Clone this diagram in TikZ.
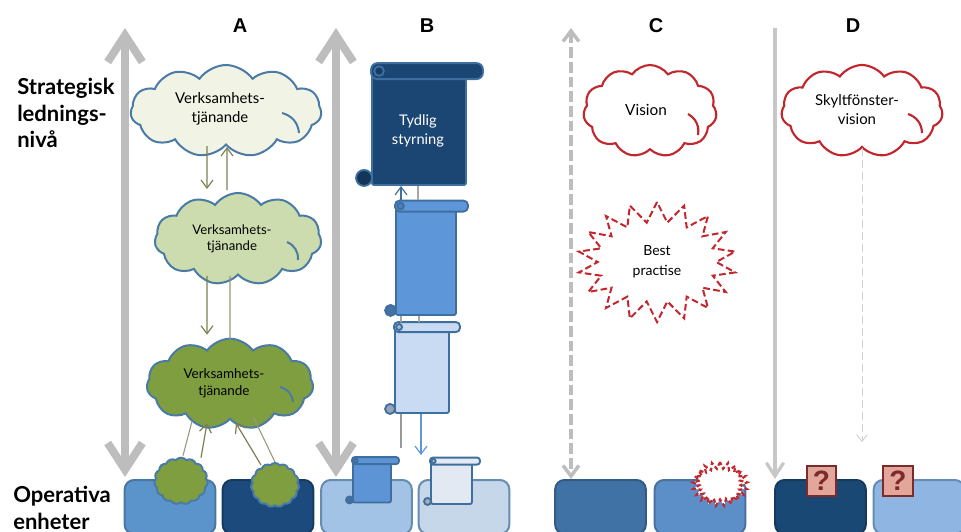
\documentclass[tikz,border=0pt]{standalone}
\usepackage{fontspec}
\setmainfont{Lato}
\newfontfamily\headfont{Liberation Sans}
\usetikzlibrary{arrows.meta,shapes.symbols}
\definecolor{barcol}{HTML}{BDBDBD}
\definecolor{flowcol}{HTML}{7B8052}
\definecolor{cloudline}{HTML}{4A7BA6}
\definecolor{redline}{HTML}{C2272D}
\definecolor{scrollcol}{HTML}{3F6F9F}
\definecolor{cloudpale}{HTML}{F1F3E5}
\definecolor{cloudmid}{HTML}{CDDCAE}
\definecolor{clouddark}{HTML}{7F9E3F}
\definecolor{unitA}{HTML}{5B93CB}
\definecolor{unitB}{HTML}{1C4A7C}
\definecolor{unitC}{HTML}{A3C3E6}
\definecolor{unitD}{HTML}{C7D7EA}
\definecolor{unitE}{HTML}{4072A5}
\definecolor{unitF}{HTML}{5C8FC8}
\definecolor{unitG}{HTML}{1A4875}
\definecolor{unitH}{HTML}{8FB6E3}
\definecolor{scrollA}{HTML}{1B4674}
\definecolor{scrollB}{HTML}{5E97D9}
\definecolor{scrollC}{HTML}{C8DBF3}
\definecolor{scrollD}{HTML}{5C94D6}
\definecolor{scrollE}{HTML}{E2E9F3}
\definecolor{markfill}{HTML}{E3A69B}
\definecolor{markline}{HTML}{7C2A2A}
\newcommand{\scrollnode}[7]{%
	\node[scrollbody, fill=#6, minimum width=#3*.75pt, minimum height=#4*.75pt, #7] (#1) at (#2) {};
	\draw[scrollbody, fill=#6, rounded corners=#5*.3pt] ([shift={(0,-#5/2)}]#1.north west) rectangle ([shift={(#5,#5/2)}]#1.north east);
	\draw[scrollbody, fill=#6!85!black] ([shift={(#5/2,0)}]#1.north west) circle[radius=#5*.3];
	\draw[scrollbody, fill=#6!75!black] ([shift={(-#5/2+1,-#5/2)}]#1.south west) circle[radius=#5/2];
}
\begin{document}
\begin{tikzpicture}[
		x=.75pt, y=-.75pt
		,head/.style={font=\headfont\bfseries\fontsize{15}{18}\selectfont}
		,side/.style={font=\bfseries\fontsize{16.5}{20}\selectfont, align=left, inner sep=0pt}
		,unit/.style={draw=#1!80!black, fill=#1, line width=1.5pt, rounded corners=7pt, minimum width=68pt, minimum height=40.5pt, inner sep=0pt}
		,bar/.style={draw=barcol, line width=6pt, {Straight Barb[length=20pt, width=26pt]}-{Straight Barb[length=20pt, width=26pt]}}
		,barC/.style={draw=barcol, line width=2.6pt, dash pattern=on 8pt off 3pt, {Straight Barb[length=8pt, width=12pt]}-{Straight Barb[length=8pt, width=12pt]}}
		,barD/.style={draw=barcol!85!white, line width=2.4pt, -{Straight Barb[length=10pt, width=13pt]}}
		,ghost/.style={draw=barcol!70!white, line width=.7pt, dash pattern=on 6pt off 3pt, -{Straight Barb[length=5pt, width=8pt]}}
		,puff/.style={cloud, cloud puffs=11, cloud puff arc=110, draw=cloudline, line width=1.5pt, align=center, inner sep=0pt}
		,puffline/.style={draw=cloudline, line width=1.5pt}
		,redpuff/.style={cloud, cloud puffs=11, cloud puff arc=110, draw=redline, fill=white, line width=1.6pt, align=center, inner sep=0pt}
		,redline/.style={draw=redline, line width=1.6pt}
		,burst/.style={starburst, random starburst=0, draw=redline, fill=white, line width=1.5pt, dash pattern=on 5pt off 2.5pt, align=center, inner sep=0pt}
		,flow/.style={draw=flowcol, line width=.9pt, -{Straight Barb[length=6pt, width=9pt]}}
		,flowline/.style={draw=flowcol!80!white, line width=.8pt}
		,down/.style={draw=#1, line width=.9pt, -{Straight Barb[length=6pt, width=9pt]}}
		,downline/.style={draw=#1, line width=.8pt}
		,scrollbody/.style={draw=scrollcol, line width=1.4pt, rounded corners=1.5pt, inner sep=0pt}
		,qmark/.style={draw=markline, fill=markfill, line width=1.4pt, minimum size=22pt, inner sep=0pt, text=markline, font=\headfont\bfseries\fontsize{21}{22}\selectfont}
	]
	\clip (0,0) rectangle (961,532);

	\node[head] (hA) at (240,26) {A};
	\node[head] (hB) at (427,26) {B};
	\node[head] (hC) at (656,26) {C};
	\node[head] (hD) at (853,26) {D};
	\node[side, anchor=north west] (strat) at (17,78) {Strategisk\\lednings-\\nivå};
	\node[side, anchor=north west] (oper) at (13,486) {Operativa\\enheter};

	\node[unit=unitA] (a1) at (170,507) {};
	\node[unit=unitB] (a2) at (268,507) {};
	\node[unit=unitC, draw=scrollcol!80] (b1) at (366.5,507) {};
	\node[unit=unitD, draw=scrollcol!80] (b2) at (464,507) {};
	\node[unit=unitE] (c1) at (600.5,507) {};
	\node[unit=unitF] (c2) at (700,507) {};
	\node[unit=unitG] (d1) at (820.5,507) {};
	\node[unit=unitH, draw=scrollcol!80] (d2) at (919,507) {};

	\coordinate (barAt) at (125,28);
	\coordinate (barBt) at (336,28);
	\coordinate (barCt) at (571,28);
	\coordinate (barDt) at (775,28);
	\draw[bar] (barAt) -- ([yshift=1.5pt]a1.north west -| barAt);
	\draw[bar] (barBt) -- ([yshift=1.5pt]b1.north west -| barBt);
	\draw[barC] (barCt) -- (c1.north west -| barCt);
	\draw[barD] (barDt) -- (d1.north west -| barDt);

	\node[puff, fill=cloudpale, minimum width=143pt, minimum height=69pt] (cloudA) at (226,111) {};
	\node[puff, fill=cloudmid, minimum width=125pt, minimum height=69pt] (cloudB) at (238,239) {};
	\node[puff, fill=clouddark, minimum width=125pt, minimum height=68pt] (cloudC) at (230,384) {};
	\node[puff, fill=clouddark, cloud puffs=15, cloud puff arc=100, minimum width=40pt, minimum height=35pt] (tuftA) at (181,481) {};
	\node[puff, fill=clouddark, cloud puffs=15, cloud puff arc=100, minimum width=36pt, minimum height=33pt] (tuftB) at (275,485) {};
	\node[font=\fontsize{11.2}{14.3}\selectfont, align=center] (txtA) at (220,109) {Verksamhets-\\tjänande};
	\node[font=\fontsize{9.9}{12}\selectfont, align=center] (txtB) at (232,239) {Verksamhets-\\tjänande};
	\node[font=\fontsize{10.1}{12.7}\selectfont, align=center] (txtC) at (224,383) {Verksamhets-\\tjänande};
	\draw[puffline] ([shift={(56,2)}]cloudA.center) to[bend left=35] ([shift={(73,22)}]cloudA.center);
	\draw[puffline] ([shift={(49,3)}]cloudB.center) to[bend left=35] ([shift={(60,21)}]cloudB.center);
	\draw[puffline] ([shift={(50,3)}]cloudC.center) to[bend left=35] ([shift={(63,18)}]cloudC.center);

	\draw[flow] ([shift={(-19,0)}]cloudA.south) -- ([shift={(-31,-3)}]cloudB.north);
	\draw[flow] ([shift={(-11,-2)}]cloudB.north) -- ([shift={(1,1)}]cloudA.south);
	\draw[flow] ([shift={(-31,0)}]cloudB.south) -- ([shift={(-23,-3)}]cloudC.north);
	\draw[flowline] ([shift={(-8,0)}]cloudB.south) -- ([shift={(0,2)}]cloudC.north);
	\draw[flowline] ([shift={(2,-1)}]tuftA.north) -- ([shift={(-38,1)}]cloudC.south);
	\draw[flow] ([shift={(20,1)}]tuftA.north) -- ([shift={(-23,3)}]cloudC.south);
	\draw[flow] ([shift={(-14,3)}]tuftB.north) -- ([shift={(6,3)}]cloudC.south);
	\draw[flowline] (tuftB.north) -- ([shift={(23,-4)}]cloudC.south);

	\scrollnode{sA}{419,128.5}{94}{113}{16}{scrollA}{text=white}
	\scrollnode{sB}{426,261}{60}{108}{11}{scrollB}{}
	\scrollnode{sC}{422,370.5}{54}{85}{10}{scrollC}{}
	\scrollnode{sD}{372,482}{38}{41}{7}{scrollD}{}
	\scrollnode{sE}{451.5,483}{41}{42}{7}{scrollE}{}
	\node[text=white, align=center, font=\fontsize{11}{14}\selectfont] (txtTyd) at (418,131) {Tydlig\\styrning};

	\draw[down=scrollcol] ([shift={(-25,-6)}]sB.north) -- ([shift={(-18,0)}]sA.south);
	\draw[downline=gray!70] ([shift={(-1,0)}]sA.south) -- ([shift={(-8,-6)}]sB.north);
	\draw[downline=gray!70] ([shift={(-25,0)}]sB.south) -- ([shift={(-21,-5)}]sC.north);
	\draw[downline=gray!70] ([shift={(-7,0)}]sB.south) -- ([shift={(-3,-5)}]sC.north);
	\coordinate (leftEnd) at (401,448);
	\coordinate (rightEnd) at (421,455);
	\draw[downline=gray!80] (sC.south -| leftEnd) -- (leftEnd);
	\draw[down=scrollB] (sC.south -| rightEnd) -- (rightEnd);

	\node[redpuff, minimum width=100pt, minimum height=69pt] (cloudV) at (650,111) {};
	\node[font=\fontsize{11.5}{14}\selectfont] (txtV) at (646,110) {Vision};
	\node[redpuff, minimum width=121pt, minimum height=69pt] (cloudS) at (862,111) {};
	\node[font=\fontsize{11.2}{14.3}\selectfont, align=center] (txtS) at (857,110) {Skyltfönster-\\vision};
	\draw[redline] ([shift={(38,3)}]cloudV.center) to[bend left=35] ([shift={(48,24)}]cloudV.center);
	\draw[redline] ([shift={(46,3)}]cloudS.center) to[bend left=35] ([shift={(60,22)}]cloudS.center);
	\node[burst, starburst points=18, starburst point height=15pt, minimum width=119pt, minimum height=90pt, font=\fontsize{10.5}{15}\selectfont] (best) at (657,262) {Best\\practise};
	\node[burst, starburst points=21, starburst point height=5pt, minimum width=41pt, minimum height=33pt, line width=1.6pt, dash pattern=on 3pt off 2pt] (bestS) at (720,484) {};

	\node[qmark] (markA) at (821.5,481) {?};
	\node[qmark] (markB) at (898,481) {?};
	\coordinate (ghostEnd) at (862,442);
	\draw[ghost] (cloudS.south -| ghostEnd) -- (ghostEnd);
\end{tikzpicture}
\end{document}
